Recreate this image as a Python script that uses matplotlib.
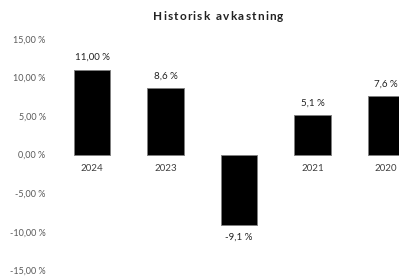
import matplotlib.pyplot as plt
import numpy as np

# Data
years = ['2024', '2023', '2022', '2021', '2020']
returns = [11.00, 8.6, -9.1, 5.1, 7.6]
value_labels = ['11,00 %', '8,6 %', '-9,1 %', '5,1 %', '7,6 %']
yticks = [-15, -10, -5, 0, 5, 10, 15]
title = 'Historisk avkastning'

plt.rcParams['font.family'] = ['Lato', 'DejaVu Sans']

fig = plt.figure(figsize=(3.99, 2.77), dpi=100)
# plot area runs past the right edge, like the cropped original
ax = fig.add_axes([0.1385, 0.0235, 0.921, 0.8365])

x = np.arange(len(years))
bars = ax.bar(x, returns, width=0.49, color='black', edgecolor='#808080',
              linewidth=0.7, zorder=2)

ax.set_xlim(-0.5, len(years) - 0.5)
ax.set_ylim(-15, 15)

for xi, v, lab in zip(x, returns, value_labels):
    off = 12 if v >= 0 else -12
    ax.annotate(lab, (xi, v), xytext=(0, off * 0.72), textcoords='offset points',
                ha='center', va='center', fontsize=7, color='#222222', zorder=4)

# year labels just below zero line (hidden behind negative bars)
for xi, yr in zip(x, years):
    ax.annotate(yr, (xi, 0), xytext=(0, -14 * 0.72), textcoords='offset points',
                ha='center', va='center', fontsize=7, color='#404040', zorder=1)

ax.set_yticks(yticks)
ax.set_yticklabels([f'{t:.2f}'.replace('.', ',') + ' %' for t in yticks])
ax.tick_params(axis='y', length=0, pad=7, labelsize=6.5, labelcolor='#595959')
ax.set_xticks([])
for s in ax.spines.values():
    s.set_visible(False)

# letter-spaced bold title, placed char by char
renderer = fig.canvas.get_renderer()
spacing = 1.2  # px between letters
widths = []
for ch in title:
    t = fig.text(0, 0, ch if ch != ' ' else 'n', fontsize=8.5, fontweight='bold')
    w = t.get_window_extent(renderer).width
    widths.append(w * (0.55 if ch == ' ' else 1.0))
    t.remove()
total = sum(widths) + spacing * (len(title) - 1)
W = fig.bbox.width
xpos = 218 - total / 2
for ch, w in zip(title, widths):
    if ch != ' ':
        fig.text(xpos / W, 0.942, ch, ha='left', va='center', fontsize=8.5,
                 fontweight='bold', color='#222222')
    xpos += w + spacing

fig.savefig('out.png', dpi=100)
